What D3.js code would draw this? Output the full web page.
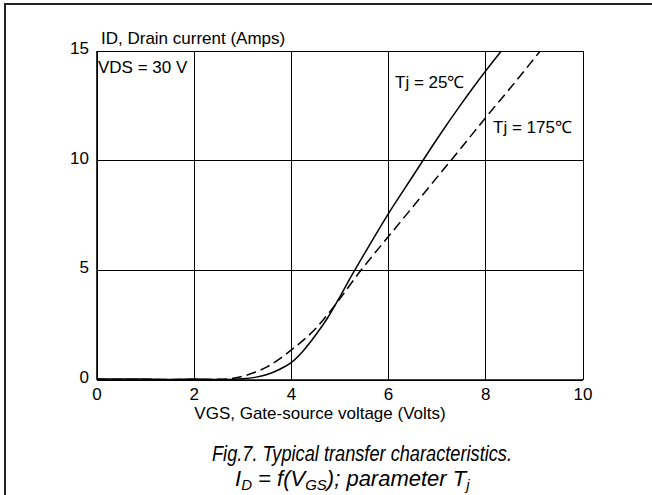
<!DOCTYPE html>
<html>
<head>
<meta charset="utf-8">
<script src="https://cdn.jsdelivr.net/npm/d3@7"></script>
<style>
  body { margin: 0; background: #fff; }
  svg { display: block; font-family: "Liberation Sans", Arial, sans-serif; }
</style>
</head>
<body>
<svg id="chart" width="652" height="495"></svg>
<script>
const xTicks = [0, 2, 4, 6, 8, 10];
const yTicks = [0, 5, 10, 15];

// Tj = 25 C (solid)
const vgs25 = [0, 0.5, 1, 1.5, 2, 2.5, 3, 3.25, 3.5, 3.75, 4, 4.25, 4.5, 4.75, 5, 5.25, 5.5, 6, 6.5, 7, 7.5, 8, 8.32];
const id25 = [0.06, 0.04, 0.05, 0.02, 0.04, 0.02, 0.06, 0.12, 0.25, 0.48, 0.8, 1.35, 2.05, 2.85, 3.8, 4.8, 5.75, 7.6, 9.3, 11.0, 12.6, 14.1, 15];

// Tj = 175 C (dashed)
const vgs175 = [0, 0.5, 1, 1.5, 2, 2.5, 2.8, 3, 3.25, 3.5, 3.75, 4, 4.5, 4.9, 5.43, 6, 6.5, 7, 7.5, 8, 8.5, 9.12];
const id175 = [0.02, 0.02, 0.02, 0.02, 0.02, 0.03, 0.08, 0.17, 0.35, 0.6, 0.95, 1.37, 2.35, 3.42, 5.0, 6.55, 7.9, 9.25, 10.6, 11.97, 13.3, 15];

const svg = d3.select("#chart");
const margin = { top: 51, right: 69, bottom: 115, left: 97 };
const width = 652 - margin.left - margin.right;
const height = 495 - margin.top - margin.bottom;

// outer frame (left and top only)
svg.append("line").attr("x1", 5).attr("x2", 5).attr("y1", 3).attr("y2", 495)
  .attr("stroke", "#222").attr("stroke-width", 2);
svg.append("line").attr("x1", 4).attr("x2", 652).attr("y1", 4).attr("y2", 4)
  .attr("stroke", "#222").attr("stroke-width", 2);

const g = svg.append("g").attr("transform", `translate(${margin.left},${margin.top})`);

const x = d3.scaleLinear().domain([0, 10]).range([0, width]);
const y = d3.scaleLinear().domain([0, 15]).range([height, 0]);

// grid
g.append("g").selectAll("line").data(xTicks).join("line")
  .attr("x1", d => x(d)).attr("x2", d => x(d))
  .attr("y1", 0).attr("y2", height)
  .attr("stroke", "#000").attr("stroke-width", 1)
  .attr("shape-rendering", "crispEdges");
g.append("g").selectAll("line").data(yTicks).join("line")
  .attr("x1", 0).attr("x2", width)
  .attr("y1", d => y(d)).attr("y2", d => y(d))
  .attr("stroke", "#000").attr("stroke-width", 1)
  .attr("shape-rendering", "crispEdges");
g.append("line").attr("x1", 0).attr("x2", 0).attr("y1", 0).attr("y2", height)
  .attr("stroke", "#000").attr("stroke-width", 1.6);
g.append("line").attr("x1", 0).attr("x2", width).attr("y1", height).attr("y2", height)
  .attr("stroke", "#000").attr("stroke-width", 1.6);

// tick labels
g.append("g").selectAll("text").data(xTicks).join("text")
  .attr("x", d => x(d)).attr("y", height + 20)
  .attr("text-anchor", "middle").attr("font-size", 17).text(d => d);
g.append("g").selectAll("text").data(yTicks).join("text")
  .attr("x", -8).attr("y", d => y(d) + 3)
  .attr("text-anchor", "end").attr("font-size", 17).text(d => d);

// axis titles
g.append("text").attr("x", 4).attr("y", -7).attr("font-size", 17)
  .text("ID, Drain current (Amps)");
g.append("text").attr("x", 223).attr("y", height + 39)
  .attr("text-anchor", "middle").attr("font-size", 17)
  .text("VGS, Gate-source voltage (Volts)");
g.append("text").attr("x", 1).attr("y", 22).attr("font-size", 17)
  .text("VDS = 30 V");

// curves
const line = d3.line().x(d => x(d[0])).y(d => y(d[1])).curve(d3.curveMonotoneX);
g.append("path").datum(d3.zip(vgs25, id25))
  .attr("d", line).attr("fill", "none").attr("stroke", "#000").attr("stroke-width", 1.5);
g.append("path").datum(d3.zip(vgs175, id175))
  .attr("d", line).attr("fill", "none").attr("stroke", "#000").attr("stroke-width", 1.5)
  .attr("stroke-dasharray", "10,5");

// curve labels
g.append("text").attr("x", 298).attr("y", 37).attr("font-size", 17).text("Tj = 25℃");
g.append("text").attr("x", 396).attr("y", 82).attr("font-size", 17).text("Tj = 175℃");

// caption
const cap = svg.append("g").attr("font-size", 22).attr("font-style", "italic");
cap.append("text").attr("x", 212).attr("y", 461)
  .attr("textLength", 300).attr("lengthAdjust", "spacingAndGlyphs")
  .text("Fig.7.  Typical transfer characteristics.");
const t2 = cap.append("text").attr("x", 235).attr("y", 486);
t2.append("tspan").text("I");
t2.append("tspan").attr("font-size", 15).attr("dy", 4).text("D");
t2.append("tspan").attr("dy", -4).text(" = f(V");
t2.append("tspan").attr("font-size", 15).attr("dy", 4).text("GS");
t2.append("tspan").attr("dy", -4).text("); parameter T");
t2.append("tspan").attr("font-size", 15).attr("dy", 4).text("j");
</script>
</body>
</html>
